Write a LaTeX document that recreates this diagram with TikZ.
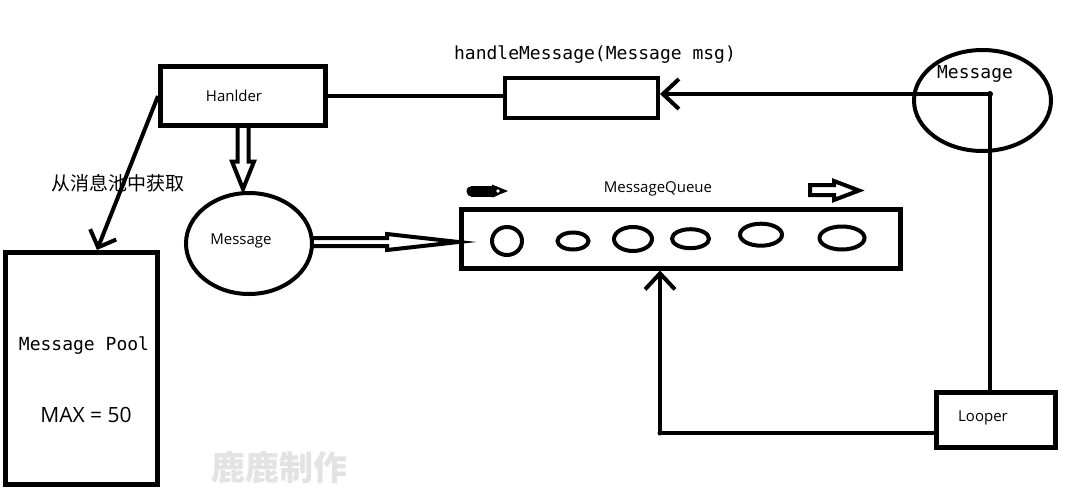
\documentclass[tikz,border=0pt]{standalone}
\usepackage{fontspec}
\setmainfont{Open Sans}
\newfontfamily\cjkfont{Noto Sans CJK SC}
\newfontfamily\monofont{DejaVu Sans Mono}
\usetikzlibrary{arrows.meta,calc,shapes.geometric}
\begin{document}
\begin{tikzpicture}[x=1pt,y=-1pt,line join=miter,
  thickbox/.style={draw=black,line width=5pt,rectangle,inner sep=0pt},
  thinbox/.style={draw=black,line width=4pt,rectangle,inner sep=0pt},
  oval/.style={draw=black,line width=4pt,ellipse,inner sep=0pt},
  conn/.style={draw=black,line width=4pt},
  barb/.style={-{Straight Barb[length=16pt,width=30pt]}},
  sans/.style={font=\fontsize{15}{18}\selectfont},
  mono/.style={font=\monofont\fontsize{18}{21}\selectfont},
  qitem/.style={draw=black,line width=4pt,ellipse,inner sep=0pt}]
\useasboundingbox[fill=white] (0,0) rectangle (1070,498);

% Handler
\node[thickbox,minimum width=165pt,minimum height=59pt] (h) at (243,96) {};
\node[sans] (htext) at (234,96) {Hanlder};
% handleMessage box
\node[thinbox,minimum width=153pt,minimum height=40pt] (hm) at (581.5,98) {};
\node[mono] (hmtext) at (595,55) {handleMessage(Message msg)};
% Message (top right)
\node[oval,minimum width=137pt,minimum height=101pt] (m1) at (982.5,100.5) {};
\node[mono] (m1text) at (975,74) {Message};
% Looper
\node[thickbox,minimum width=119pt,minimum height=55pt] (lp) at (995.5,419.5) {};
\node[sans] (lptext) at (983,418) {Looper};
% MessageQueue
\node[thickbox,minimum width=439pt,minimum height=59pt] (q) at (680.5,238.5) {};
\node[sans] (qtext) at (658,189) {MessageQueue};
\node[qitem,minimum width=30pt,minimum height=28pt] (q1) at (507,241) {};
\node[qitem,minimum width=31pt,minimum height=17pt] (q2) at (573,241) {};
\node[qitem,minimum width=38pt,minimum height=24pt] (q3) at (633,239) {};
\node[qitem,minimum width=37pt,minimum height=19pt] (q4) at (690.5,238.7) {};
\node[qitem,minimum width=42pt,minimum height=22pt] (q5) at (761,234.7) {};
\node[qitem,minimum width=45pt,minimum height=23pt] (q6) at (842,238) {};
% small arrows above the queue
\draw[line width=11pt,line cap=round] (472,191) -- (494,191);
\fill[black] (492,184.5) -- (508,191) -- (492,197.5) -- cycle;
\fill[white] (498,191) circle (1.8pt);
\draw[line width=4pt] (810,185) -- (834,185) -- (834,181) -- (859,190.5) -- (834,200) -- (834,195) -- (810,195) -- cycle;
% Message (middle)
\node[oval,minimum width=126pt,minimum height=101pt] (m2) at (249,243.5) {};
\node[sans] (m2text) at (241,241) {Message};
% Message Pool
\node[thickbox,minimum width=152pt,minimum height=232pt] (pool) at (81.5,368.5) {};
\node[mono] (pooltext) at (84,346) {Message Pool};
\node[font=\fontsize{21}{25}\selectfont] (maxtext) at (86,415) {MAX = 50};
% Chinese label
\node[font=\cjkfont\fontsize{19}{23}\selectfont] (ctext) at (118,183) {从消息池中获取};
% watermark
\node[text=black!11,font=\cjkfont\bfseries\fontsize{34}{38}\selectfont] (wm) at (279,467) {鹿鹿制作};

% connectors
\coordinate (j1) at (990,94);
\coordinate (j2) at (660,433);
\draw[conn] (h.east) -- (h.east -| hm.west);
\draw[conn,barb] (j1) -- (j1 -| hm.east);
\fill[black] (j1) circle (3pt);
\draw[conn] (j1) -- (j1 |- lp.north);
\draw[conn,barb] (j2 -| lp.west) -- (j2) -- (j2 |- q.south);
\fill[black] (j2) circle (2.5pt);
\draw[conn,-{Straight Barb[length=14pt,width=28pt]}] (h.west) -- ($(pool.north)+(15.5,0)$);
% hollow arrow Handler -> Message
\draw[conn] ($(h.south)+(-5.5,0)$) -- ($(h.south)+(-5.5,33.5)$) -- ($(h.south)+(-11,33.5)$)
  -- ($(h.south |- m2.north)+(0,-2)$) -- ($(h.south)+(11,33.5)$) -- ($(h.south)+(5.5,33.5)$) -- ($(h.south)+(5.5,0)$);
% hollow arrow Message -> MessageQueue
\coordinate (a2) at (312,242);
\draw[conn] ($(a2)+(0,-4)$) -- ($(a2)+(75,-4)$) -- ($(a2)+(75,-8)$) -- (q.west |- a2)
  -- ($(a2)+(75,8)$) -- ($(a2)+(75,4)$) -- ($(a2)+(0,4)$);
\end{tikzpicture}
\end{document}
